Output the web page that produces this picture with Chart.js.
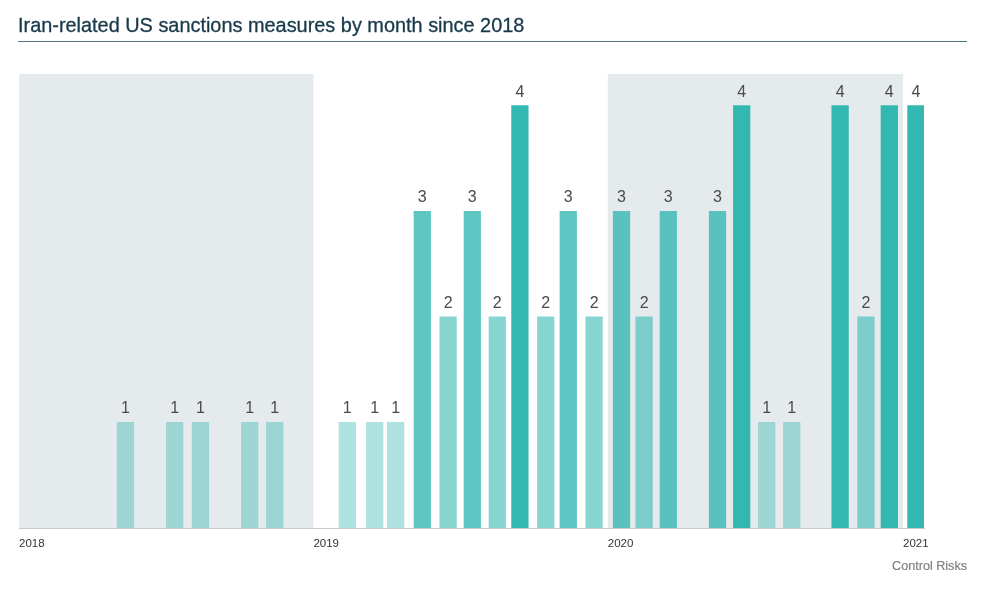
<!DOCTYPE html>
<html>
<head>
<meta charset="utf-8">
<title>Iran-related US sanctions measures</title>
<script src="https://cdn.jsdelivr.net/npm/chart.js@4/dist/chart.umd.min.js"></script>
<style>
  body { margin: 0; background: #fff; font-family: "Liberation Sans", sans-serif; }
  #wrap { position: relative; width: 1000px; height: 593px; overflow: hidden; }
  #title { position: absolute; left: 18px; top: 12px; margin: 0; font-size: 19.9px; line-height: 26px; font-weight: normal; color: #17394a; -webkit-text-stroke: 0.3px #17394a; white-space: nowrap; }
  #rule { position: absolute; left: 18px; top: 41px; width: 949px; height: 1px; background: #4f7582; }
  #source { position: absolute; right: 33px; top: 559px; font-size: 12.6px; line-height: 14px; color: #808080; -webkit-text-stroke: 0.2px #808080; }
  canvas { position: absolute; left: 0; top: 0; }
</style>
</head>
<body>
<div id="wrap">
  <canvas id="chart" width="1000" height="593"></canvas>
  <h1 id="title">Iran-related US sanctions measures by month since 2018</h1>
  <div id="rule"></div>
  <div id="source">Control Risks</div>
</div>
<script>
// dates, roughly mid month
const dates = [
  '2018-05-13', '2018-07-13', '2018-08-14', '2018-10-14', '2018-11-14',
  '2019-02-12', '2019-03-18', '2019-04-13', '2019-05-16', '2019-06-17', '2019-07-17',
  '2019-08-17', '2019-09-14', '2019-10-16', '2019-11-13', '2019-12-15',
  '2020-01-18', '2020-02-15', '2020-03-16', '2020-05-16', '2020-06-15', '2020-07-16',
  '2020-08-16', '2020-10-15', '2020-11-16', '2020-12-15', '2021-01-17'
];
const measures = [
  1, 1, 1, 1, 1,
  1, 1, 1, 3, 2, 3,
  2, 4, 2, 3, 2,
  3, 2, 3, 3, 4, 1,
  1, 4, 2, 4, 4
];
const yearTicks = ['2018-01-01', '2019-01-01', '2020-01-01', '2021-01-01'];
const shadedYears = ['2018', '2020'];
const axisEnd = '2021-01-27';

// x axis runs in days from the first tick
const dayOf = d => (Date.parse(d + 'T00:00:00Z') - Date.parse(yearTicks[0] + 'T00:00:00Z')) / 864e5;

// one opacity per count, the darker the bar the more measures
const alphaByCount = { 1: 0.4, 2: 0.59, 3: 0.79, 4: 1 };

const yearBands = {
  id: 'yearBands',
  beforeDatasetsDraw(chart) {
    const { ctx, chartArea, scales } = chart;
    ctx.save();
    ctx.fillStyle = '#e5eaed';
    shadedYears.forEach(y => {
      const x0 = scales.x.getPixelForValue(dayOf(y + '-01-01'));
      const x1 = scales.x.getPixelForValue(dayOf((+y + 1) + '-01-01'));
      ctx.fillRect(x0, chartArea.top, x1 - x0, chartArea.bottom - chartArea.top);
    });
    ctx.restore();
  }
};

const barLabels = {
  id: 'barLabels',
  afterDatasetsDraw(chart) {
    const { ctx } = chart;
    ctx.save();
    ctx.font = '16px "Liberation Sans", sans-serif';
    ctx.fillStyle = '#4a4a4a';
    ctx.textAlign = 'center';
    ctx.textBaseline = 'alphabetic';
    chart.getDatasetMeta(0).data.forEach((bar, i) => {
      ctx.fillText(measures[i], bar.x, bar.y - 9);
    });
    ctx.restore();
  }
};

new Chart(document.getElementById('chart'), {
  type: 'bar',
  data: {
    datasets: [{
      data: dates.map((d, i) => ({ x: dayOf(d), y: measures[i] })),
      barThickness: 16.6,
      backgroundColor: c => `rgba(51, 183, 177, ${alphaByCount[c.raw.y]})`
    }]
  },
  options: {
    responsive: false,
    animation: false,
    layout: { padding: { left: 19, right: 76, top: 74, bottom: 35 } },
    plugins: { legend: { display: false }, tooltip: { enabled: false } },
    scales: {
      x: {
        type: 'linear',
        offset: false,
        bounds: 'data',
        min: 0,
        max: dayOf(axisEnd),
        afterBuildTicks: s => { s.ticks = yearTicks.map(d => ({ value: dayOf(d) })); },
        afterFit: s => { s.height = 30; },
        grid: { display: false },
        border: { color: '#c6ccd1', width: 1 },
        ticks: {
          autoSkip: false,
          maxRotation: 0,
          align: 'start',
          padding: 1,
          color: '#333',
          font: { family: '"Liberation Sans", sans-serif', size: 11.5 },
          callback: v => yearTicks.find(d => dayOf(d) === v).slice(0, 4)
        }
      },
      y: { display: false, min: 0, max: 4.3 }
    }
  },
  plugins: [yearBands, barLabels]
});
</script>
</body>
</html>
